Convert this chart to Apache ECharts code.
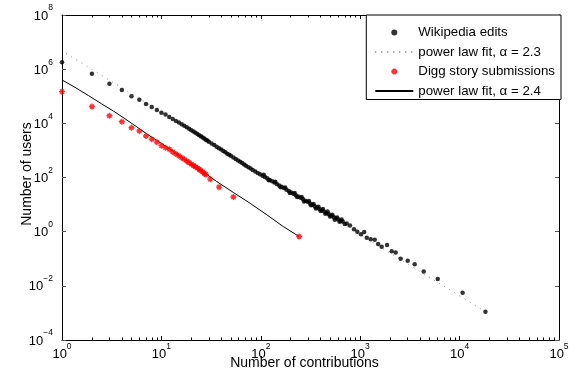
<!DOCTYPE html>
<html><head><meta charset="utf-8">
<script src="https://cdn.jsdelivr.net/npm/echarts@6/dist/echarts.min.js"></script>
<style>html,body{margin:0;padding:0;background:#fff}#c{width:581px;height:376px}</style>
</head><body><div id="c"></div>
<script>
// Wikipedia edits: [number of contributions, number of users]
const wikiPoints = [[1,1.8e6],[2,6.8e5],[3,2.9e5],[4,1.7e5],[5,1.0e5],[6,7.4e4],[7,5.2e4],[8,4.0e4],[9,3.1e4],[10,2.45e4],
[11,2.1e4],[12,1.7e4],[13,1.45e4],[14,1.23e4],[15,1.07e4],[16,9.3e3],[17,8.1e3],[18,7.1e3],[19,6.3e3],[20,5.6e3],
[21,5.0e3],[22,4.5e3],[23,4.0e3],[24,3.6e3],[25,3.3e3],[26,3.0e3],[27,2.75e3],[28,2.5e3],[29,2.3e3],[30,2.1e3],
[32,1.8e3],[34,1.58e3],[36,1.38e3],[38,1.2e3],[40,1.07e3],[42,955],[44,850],[46,760],[48,690],[50,630],
[53,550],[56,480],[59,425],[62,380],[65,340],[68,300],[71,270],[75,240],[79,215],[83,190],[88,166],[93,148],[98,132],
[104,117],[107,126],[110,105],[116,93],[120,79],[123,81],[130,72],[137,65],[140,69],[145,58],[153,51],[158,44],[162,46],
[171,41],[176,43],[181,35],[191,32],[196,27],[202,28],[213,25],[219,27],[225,22],[232,19],[238,20],[251,18],[258,19],
[265,16],[272,13],[280,14],[296,12.6],[305,13.5],[313,11],[320,9.5],[330,9.8],[340,10.5],[349,8.7],[358,7.1],[368,7.8],
[380,8.3],[389,6.9],[400,5.8],[411,6.2],[422,6.8],[434,5.5],[446,4.6],[458,4.9],[470,5.5],[484,4.4],[497,3.6],[511,3.9],
[525,4.2],[540,3.5],[555,2.75],[570,3.1],[586,3.3],[602,2.8],[620,2.3],[636,2.5],[650,2.8],[667,2.35],[700,1.9],[731,2.0],
[789,1.7],[867,1.23],[935,1.0],[1019,0.81],[1096,0.98],[1164,0.60],[1276,0.52],[1400,0.50],[1514,0.35],[1644,0.28],
[1862,0.32],[2075,0.19],[2275,0.17],[2553,0.10],[3006,0.085],[3532,0.062],[4355,0.034],[6026,0.018],[10715,0.0056],[18197,0.0011]];
// power law fit, alpha = 2.3 (end points of the dotted line)
const wikiFit = [[1.1,3.8e6],[19000,1.0e-3]];
// Digg story submissions
const diggPoints = [[1,1.48e5],[2,4.2e4],[3,1.9e4],[4,1.15e4],[5,6.9e3],[6,5.2e3],[7,3.4e3],[8,2.6e3],[9,2.0e3],[10,1.5e3],
[11,1.26e3],[12,1.1e3],[13,870],[14,740],[15,630],[16,540],[17,470],[18,400],[19,355],[20,310],[21,280],[22,250],
[23,225],[24,200],[25,180],[26,160],[27,140],[28,130],[31,87],[38,44],[53,19],[243,0.66]];
// power law fit, alpha = 2.4 (solid line vertices)
const diggFit = [[1,3.98e5],[1.35,2.14e5],[1.84,1.07e5],[2.5,5.25e4],[3.3,2.82e4],[4.3,1.48e4],[5.6,7.6e3],[7.1,4.1e3],
[8.6,2.6e3],[10.9,1.48e3],[13.7,830],[16.6,510],[27.5,145],[36,71],[53,28],[78,11.2],[115,4.2],[168,1.55],[243,0.66]];

const seriesNames = ['Wikipedia edits','power law fit, \u03b1 = 2.3','Digg story submissions','power law fit, \u03b1 = 2.4'];
const xMajorTicks = [1,10,100,1000,10000,100000];
const xMinorTicks = [2,3,4,5,6,7,8,9,20,30,40,50,60,70,80,90,200,300,400,500,600,700,800,900,
  2000,3000,4000,5000,6000,7000,8000,9000,20000,30000,40000,50000,60000,70000,80000,90000];
const yMajorTicks = [1e-4,1e-2,1,1e2,1e4,1e6,1e8];
const xLabel = 'Number of contributions';
const yLabel = 'Number of users';

const FONT = 'Liberation Sans, Arial, Helvetica, sans-serif';
const asterisk = 'path://M5,0L5,10M0,5L10,5M1.6,1.6L8.4,8.4M1.6,8.4L8.4,1.6';

function powLabel(v){
  const e = Math.round(Math.log10(v));
  return '{b|10}{e|' + (e < 0 ? '\u2212' + (-e) : e) + '}';
}
const rich = {
  b: {fontSize: 13, fontFamily: FONT, color: '#000', padding: [6,0,0,0]},
  e: {fontSize: 8.5, fontFamily: FONT, color: '#000', verticalAlign: 'top'}
};
const axisCommon = {type: 'log', logBase: 10, splitLine: {show: false}, minorTick: {show: false}};
const hiddenDot = {opacity: 0};

const chart = echarts.init(document.getElementById('c'), null, {renderer: 'canvas'});
chart.setOption({
  animation: false,
  backgroundColor: '#fff',
  grid: {left: 62, right: 22, top: 15, bottom: 36, containLabel: false, outerBoundsMode: 'none'},
  legend: {
    right: 20, top: 15, orient: 'vertical',
    backgroundColor: '#fff', borderColor: '#000', borderWidth: 1, borderRadius: 0,
    padding: [11, 6, 2, 8], itemGap: 6.5, itemWidth: 38, itemHeight: 6,
    textStyle: {fontSize: 13.3, fontFamily: FONT, color: '#000'},
    data: [
      {name: seriesNames[0]},
      {name: seriesNames[1], itemStyle: hiddenDot},
      {name: seriesNames[2]},
      {name: seriesNames[3], itemStyle: hiddenDot}
    ]
  },
  xAxis: [
    Object.assign({}, axisCommon, {min: 1, max: 1e5, position: 'bottom',
      name: xLabel, nameLocation: 'middle', nameGap: 16, nameMoveOverlap: false,
      nameTextStyle: {fontSize: 14, fontFamily: FONT, color: '#000', padding: [0, 12, 0, 0]},
      axisLine: {show: true, onZero: false, lineStyle: {color: '#000', width: 1}},
      axisTick: {show: true, inside: true, length: 4, customValues: xMajorTicks, lineStyle: {color: '#000'}},
      axisLabel: {show: true, margin: 2, customValues: xMajorTicks, formatter: powLabel, rich: rich}}),
    Object.assign({}, axisCommon, {min: 1, max: 1e5, position: 'bottom',
      axisLine: {show: false, onZero: false},
      axisTick: {show: true, inside: true, length: 2.5, customValues: xMinorTicks, lineStyle: {color: '#000'}},
      axisLabel: {show: false}}),
    Object.assign({}, axisCommon, {min: 1, max: 1e5, position: 'top',
      axisLine: {show: true, onZero: false, lineStyle: {color: '#000', width: 1}},
      axisTick: {show: true, inside: true, length: 4, customValues: xMajorTicks, lineStyle: {color: '#000'}},
      axisLabel: {show: false}}),
    Object.assign({}, axisCommon, {min: 1, max: 1e5, position: 'top',
      axisLine: {show: false, onZero: false},
      axisTick: {show: true, inside: true, length: 2.5, customValues: xMinorTicks, lineStyle: {color: '#000'}},
      axisLabel: {show: false}})
  ],
  yAxis: [
    Object.assign({}, axisCommon, {min: 1e-4, max: 1e8, position: 'left',
      name: yLabel, nameLocation: 'middle', nameGap: 28, nameMoveOverlap: false,
      nameTextStyle: {fontSize: 14, fontFamily: FONT, color: '#000', padding: [0, 0, 0, 7]},
      axisLine: {show: true, onZero: false, lineStyle: {color: '#000', width: 1}},
      axisTick: {show: true, inside: true, length: 4, customValues: yMajorTicks, lineStyle: {color: '#555'}},
      axisLabel: {show: true, margin: 9, padding: [0,0,4,0], customValues: yMajorTicks, formatter: powLabel, rich: rich}}),
    Object.assign({}, axisCommon, {min: 1e-4, max: 1e8, position: 'right',
      axisLine: {show: true, onZero: false, lineStyle: {color: '#000', width: 1}},
      axisTick: {show: true, inside: true, length: 4, customValues: yMajorTicks, lineStyle: {color: '#555'}},
      axisLabel: {show: false}})
  ],
  series: [
    {name: seriesNames[0], type: 'scatter', data: wikiPoints, symbol: 'circle', symbolSize: 4.5,
      itemStyle: {color: '#000'}, z: 4},
    {name: seriesNames[1], type: 'line', data: wikiFit, showSymbol: false, symbol: 'none',
      lineStyle: {color: '#888', width: 1, type: [1, 5]}, itemStyle: {color: 'rgba(0,0,0,0)'}, z: 2},
    {name: seriesNames[2], type: 'scatter', data: diggPoints, symbol: asterisk, symbolSize: 6,
      itemStyle: {color: 'none', borderColor: '#ff0000', borderWidth: 1.4}, z: 4},
    {name: seriesNames[3], type: 'line', data: diggFit, showSymbol: false, symbol: 'none',
      lineStyle: {color: '#000', width: 1}, itemStyle: {color: 'rgba(0,0,0,0)'}, z: 3}
  ]
});
</script></body></html>
